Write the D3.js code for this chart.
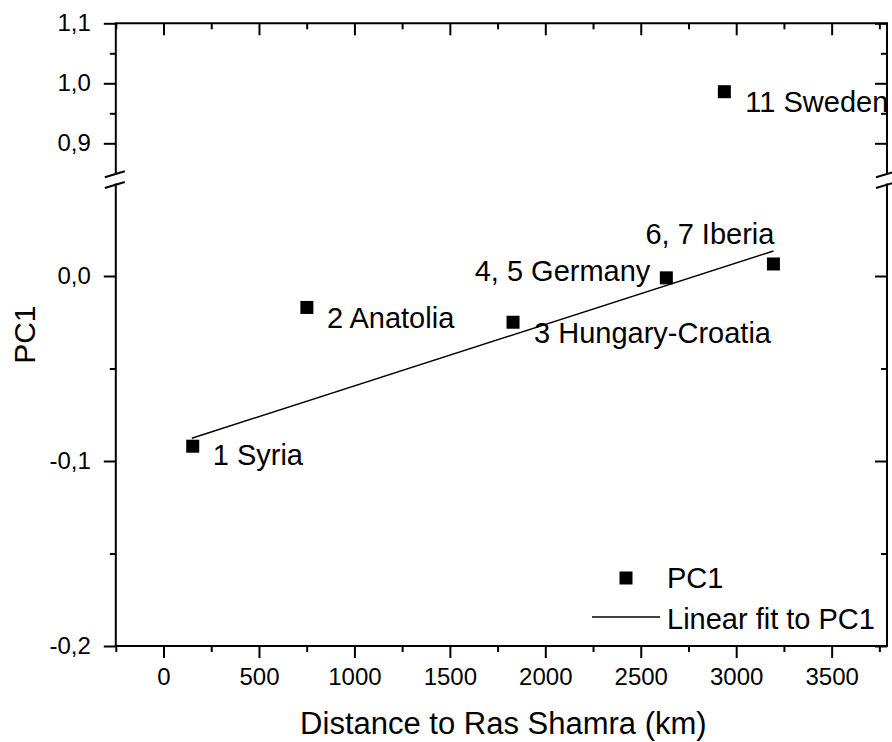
<!DOCTYPE html>
<html>
<head>
<meta charset="utf-8">
<script src="https://cdn.jsdelivr.net/npm/d3@7"></script>
<style>
  html, body { margin: 0; padding: 0; background: #fff; }
  svg { display: block; font-family: "Liberation Sans", Arial, sans-serif; }
</style>
</head>
<body>
<svg id="chart" width="892" height="742"></svg>
<script>
// ---- Data ----
const sites = ["1 Syria", "2 Anatolia", "3 Hungary-Croatia", "4, 5 Germany", "6, 7 Iberia", "11 Sweden"];
const distanceKm = [153, 751, 1831, 2634, 3195, 2938];
const pc1 = [-0.092, -0.017, -0.025, -0.001, 0.0065, 0.986];
const fitX = [148, 3195];
const fitY = [-0.0877, 0.0135];
const xMajorTicks = [0, 500, 1000, 1500, 2000, 2500, 3000, 3500];
const xMinorTicks = [-250, 250, 750, 1250, 1750, 2250, 2750, 3250, 3750];
const yUpperMajor = [0.9, 1.0, 1.1];
const yUpperMinor = [0.95, 1.05];
const yLowerMajor = [-0.2, -0.1, 0.0];
const yLowerMinor = [-0.15, -0.05];
const legendLabels = ["PC1", "Linear fit to PC1"];
const xTitle = "Distance to Ras Shamra (km)";
const yTitle = "PC1";

// ---- Layout ----
const L = 115.8, R = 887, T = 23.3, B = 646;
const upperBottom = 173.3, lowerTop = 183.5;
const svg = d3.select("#chart");

const x = d3.scaleLinear().domain([-250, 3790]).range([L, R]);
const yUp = d3.scaleLinear().domain([0.85, 1.1]).range([upperBottom, T]);
const yLo = d3.scaleLinear().domain([-0.2, 0.05]).range([B, lowerTop]);
const y = v => v >= 0.5 ? yUp(v) : yLo(v);
const fmt = d => d3.format(".1f")(d).replace(".", ",").replace("−", "-");

const tickFont = "24px";
function styleAxis(g) {
  g.select(".domain").remove();
  g.selectAll("line").attr("stroke", "#000").attr("stroke-width", 2);
  g.selectAll("text").attr("fill", "#000").style("font-size", tickFont)
    .style("font-family", '"Liberation Sans", Arial, sans-serif');
}

// Bottom axis
svg.append("g").attr("transform", `translate(0,${B})`)
  .call(d3.axisBottom(x).tickValues(xMajorTicks).tickSize(12).tickPadding(10).tickFormat(d3.format("d")))
  .call(styleAxis);
svg.append("g").attr("transform", `translate(0,${B})`)
  .call(d3.axisBottom(x).tickValues(xMinorTicks).tickSize(6).tickFormat(""))
  .call(styleAxis);
// Top axis (inward)
svg.append("g").attr("transform", `translate(0,${T})`)
  .call(d3.axisBottom(x).tickValues(xMajorTicks).tickSize(12).tickFormat(""))
  .call(styleAxis);
svg.append("g").attr("transform", `translate(0,${T})`)
  .call(d3.axisBottom(x).tickValues(xMinorTicks).tickSize(6).tickFormat(""))
  .call(styleAxis);

// Left axis segments
[[yUp, yUpperMajor, yUpperMinor], [yLo, yLowerMajor, yLowerMinor]].forEach(([sc, maj, min]) => {
  svg.append("g").attr("transform", `translate(${L},0)`)
    .call(d3.axisLeft(sc).tickValues(maj).tickSize(12).tickPadding(13).tickFormat(fmt))
    .call(styleAxis);
  svg.append("g").attr("transform", `translate(${L},0)`)
    .call(d3.axisLeft(sc).tickValues(min).tickSize(6).tickFormat(""))
    .call(styleAxis);
  // right axis (inward)
  svg.append("g").attr("transform", `translate(${R},0)`)
    .call(d3.axisLeft(sc).tickValues(maj).tickSize(12).tickFormat(""))
    .call(styleAxis);
  svg.append("g").attr("transform", `translate(${R},0)`)
    .call(d3.axisLeft(sc).tickValues(min).tickSize(6).tickFormat(""))
    .call(styleAxis);
});

// Frame
const frame = svg.append("g").attr("stroke", "#000").attr("stroke-width", 2).attr("fill", "none");
frame.append("line").attr("x1", L - 1).attr("x2", R + 1).attr("y1", T).attr("y2", T);
frame.append("line").attr("x1", L - 1).attr("x2", R + 1).attr("y1", B).attr("y2", B);
[L, R].forEach(xx => {
  frame.append("line").attr("x1", xx).attr("x2", xx).attr("y1", T).attr("y2", upperBottom);
  frame.append("line").attr("x1", xx).attr("x2", xx).attr("y1", lowerTop).attr("y2", B);
  [upperBottom + 1, lowerTop + 1.5].forEach(yy => {
    frame.append("line").attr("x1", xx - 11).attr("y1", yy + 3)
      .attr("x2", xx + 9).attr("y2", yy - 3);
  });
});

// Fit line
svg.append("line")
  .attr("x1", x(fitX[0])).attr("y1", y(fitY[0]))
  .attr("x2", x(fitX[1])).attr("y2", y(fitY[1]))
  .attr("stroke", "#000").attr("stroke-width", 1.5);

// Points
const ms = 13;
const pts = sites.map((s, i) => ({ s, x: distanceKm[i], y: pc1[i] }));
svg.append("g").selectAll("rect").data(pts).join("rect")
  .attr("x", d => x(d.x) - ms / 2).attr("y", d => y(d.y) - ms / 2)
  .attr("width", ms).attr("height", ms).attr("fill", "#000");

// Labels
const labelFont = "29px";
const labelPos = [
  { dx: 20, dy: 19, a: "start" },
  { dx: 20, dy: 21, a: "start" },
  { dx: 21, dy: 21, a: "start" },
  { dx: -16, dy: 3, a: "end" },
  { dx: 1, dy: -20, a: "end" },
  { dx: 21, dy: 20, a: "start" }
];
svg.append("g").selectAll("text").data(pts).join("text")
  .attr("x", (d, i) => x(d.x) + labelPos[i].dx)
  .attr("y", (d, i) => y(d.y) + labelPos[i].dy)
  .attr("text-anchor", (d, i) => labelPos[i].a)
  .style("font-size", labelFont)
  .text(d => d.s);

// Legend
const lg = svg.append("g");
lg.append("rect").attr("x", 626 - ms / 2).attr("y", 578 - ms / 2).attr("width", ms).attr("height", ms).attr("fill", "#000");
lg.append("text").attr("x", 667).attr("y", 588).style("font-size", labelFont).text(legendLabels[0]);
lg.append("line").attr("x1", 592).attr("x2", 660).attr("y1", 617).attr("y2", 617)
  .attr("stroke", "#000").attr("stroke-width", 1.5);
lg.append("text").attr("x", 667).attr("y", 629).style("font-size", labelFont).text(legendLabels[1]);

// Axis titles
svg.append("text").attr("x", (L + R) / 2 + 2).attr("y", 734).attr("text-anchor", "middle")
  .style("font-size", "31px").text(xTitle);
svg.append("text").attr("transform", `translate(35,${(T + B) / 2}) rotate(-90)`)
  .attr("text-anchor", "middle").style("font-size", "30px").text(yTitle);
</script>
</body>
</html>
